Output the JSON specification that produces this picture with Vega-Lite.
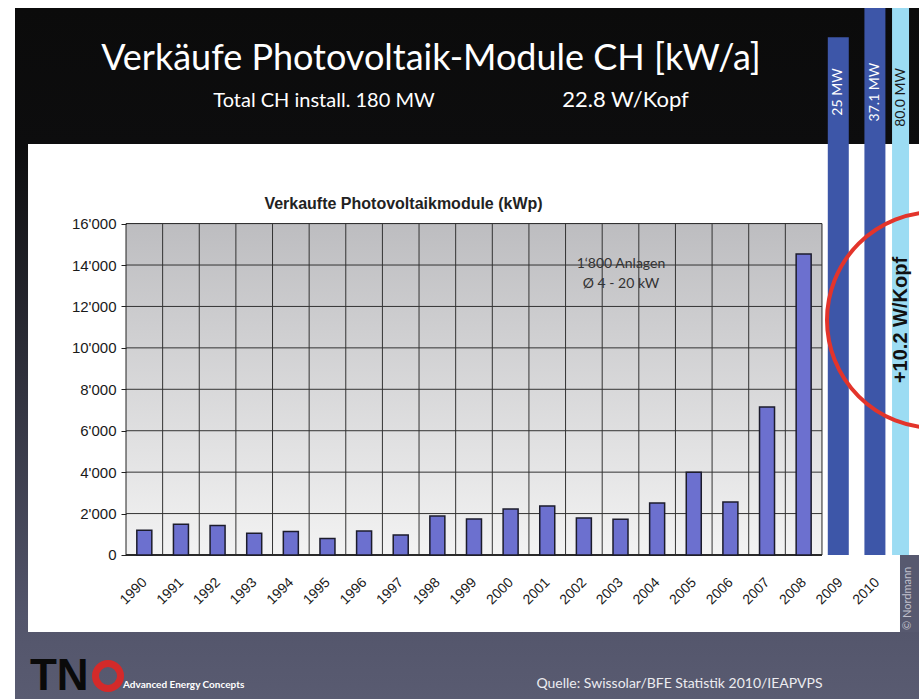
{
  "$schema": "https://vega.github.io/schema/vega-lite/v6.json",
  "width": 904,
  "height": 691,
  "autosize": {"type": "none"},
  "padding": {"left": 15, "top": 8, "right": 0, "bottom": 0},
  "background": "white",
  "config": {"view": {"stroke": null}, "text": {"font": "Lato"}, "scale": {"continuousPadding": 0}},
  "datasets": {
    "sales": [
      {"year": 1990, "kwp": 1200}, {"year": 1991, "kwp": 1480}, {"year": 1992, "kwp": 1420},
      {"year": 1993, "kwp": 1050}, {"year": 1994, "kwp": 1130}, {"year": 1995, "kwp": 800},
      {"year": 1996, "kwp": 1160}, {"year": 1997, "kwp": 970}, {"year": 1998, "kwp": 1880},
      {"year": 1999, "kwp": 1740}, {"year": 2000, "kwp": 2220}, {"year": 2001, "kwp": 2370},
      {"year": 2002, "kwp": 1790}, {"year": 2003, "kwp": 1720}, {"year": 2004, "kwp": 2510},
      {"year": 2005, "kwp": 4000}, {"year": 2006, "kwp": 2560}, {"year": 2007, "kwp": 7150},
      {"year": 2008, "kwp": 14530}
    ],
    "forecast": [
      {"year": 2009, "kwp": 25000, "label": "25 MW"},
      {"year": 2010, "kwp": 37100, "label": "37.1 MW"}
    ],
    "extra": [
      {"year": 2011, "kwp": 80000, "label": "80.0 MW"}
    ],
    "vgrid": [
      {"v": 1990.5}, {"v": 1991.5}, {"v": 1992.5}, {"v": 1993.5}, {"v": 1994.5}, {"v": 1995.5},
      {"v": 1996.5}, {"v": 1997.5}, {"v": 1998.5}, {"v": 1999.5}, {"v": 2000.5}, {"v": 2001.5},
      {"v": 2002.5}, {"v": 2003.5}, {"v": 2004.5}, {"v": 2005.5}, {"v": 2006.5}, {"v": 2007.5}
    ],
    "hgrid": [
      {"v": 2000}, {"v": 4000}, {"v": 6000}, {"v": 8000}, {"v": 10000}, {"v": 12000}, {"v": 14000}
    ]
  },
  "layer": [
    {
      "data": {"values": [{}]},
      "mark": {"type": "rect", "fill": {"gradient": "linear", "x1": 0, "y1": 0, "x2": 0, "y2": 1,
        "stops": [{"offset": 0, "color": "#0b0b0b"}, {"offset": 0.2, "color": "#0d0d0e"}, {"offset": 0.88, "color": "#53556b"}, {"offset": 1, "color": "#595b71"}]}},
      "encoding": {}
    },
    {
      "data": {"name": "sales"},
      "mark": {"type": "bar", "width": 15, "fill": "#6c70cf", "stroke": "#1c1c2c", "strokeWidth": 1.5, "opacity": 0},
      "encoding": {
        "x": {
          "field": "year", "type": "quantitative",
          "scale": {"domain": [1986.4697, 2011.1489], "nice": false, "zero": false, "padding": 0},
          "axis": {
            "orient": "bottom", "offset": -144, "title": null,
            "values": [1990, 1991, 1992, 1993, 1994, 1995, 1996, 1997, 1998, 1999, 2000, 2001, 2002, 2003, 2004, 2005, 2006, 2007, 2008, 2009, 2010],
            "format": "d", "ticks": false, "tickSize": 0, "domain": false, "grid": false,
            "labelAngle": -45, "labelAlign": "right", "labelBaseline": "middle", "labelPadding": 25,
            "labelFont": "Liberation Sans", "labelFontSize": 14, "labelColor": "#1a1a1a", "labelOverlap": false, "zindex": 1
          }
        },
        "y": {
          "field": "kwp", "type": "quantitative",
          "scale": {"domain": [-6952.2, 26408.6], "nice": false, "zero": false, "padding": 0},
          "axis": {
            "orient": "left", "offset": -111, "title": null,
            "values": [0, 2000, 4000, 6000, 8000, 10000, 12000, 14000, 16000],
            "labelExpr": "replace(format(datum.value, ','), ',', \"'\")",
            "ticks": true, "tickSize": 5, "tickColor": "#222222", "domain": false, "grid": false,
            "labelFont": "Liberation Sans", "labelFontSize": 15, "labelColor": "#1a1a1a", "labelPadding": 5, "zindex": 1
          }
        },
        "y2": {"datum": 0}
      }
    },
    {
      "data": {"values": [{}]},
      "mark": {"type": "rect", "fill": "#ffffff"},
      "encoding": {
        "x": {"datum": 1986.825, "type": "quantitative"},
        "x2": {"datum": 2011.2},
        "y": {"datum": -3717.5, "type": "quantitative"},
        "y2": {"datum": 19842.7}
      }
    },
    {
      "data": {"values": [{}]},
      "mark": {"type": "rect", "fill": "#57596f"},
      "encoding": {
        "x": {"datum": 2010.63, "type": "quantitative"},
        "x2": {"datum": 2011.2},
        "y": {"datum": -3717.5, "type": "quantitative"},
        "y2": {"datum": 0}
      }
    },
    {
      "data": {"values": [{}]},
      "mark": {"type": "rect", "stroke": "#222222", "strokeWidth": 1,
        "fill": {"gradient": "linear", "x1": 0, "y1": 0, "x2": 0, "y2": 1,
          "stops": [{"offset": 0, "color": "#bdbdc0"}, {"offset": 1, "color": "#f3f3f3"}]}},
      "encoding": {
        "x": {"datum": 1989.5, "type": "quantitative"},
        "x2": {"datum": 2008.5},
        "y": {"datum": 0, "type": "quantitative"},
        "y2": {"datum": 16000}
      }
    },
    {
      "data": {"name": "vgrid"},
      "mark": {"type": "rule", "stroke": "#333333", "strokeWidth": 1},
      "encoding": {
        "x": {"field": "v", "type": "quantitative"},
        "y": {"datum": 0, "type": "quantitative"},
        "y2": {"datum": 16000}
      }
    },
    {
      "data": {"name": "hgrid"},
      "mark": {"type": "rule", "stroke": "#333333", "strokeWidth": 1},
      "encoding": {
        "y": {"field": "v", "type": "quantitative"},
        "x": {"datum": 1989.5, "type": "quantitative"},
        "x2": {"datum": 2008.5}
      }
    },
    {
      "data": {"values": [{}]},
      "mark": {"type": "rule", "stroke": "#2a2a2a", "strokeWidth": 2},
      "encoding": {
        "y": {"datum": 0, "type": "quantitative"},
        "x": {"datum": 1989.5, "type": "quantitative"},
        "x2": {"datum": 2008.5}
      }
    },
    {
      "data": {"name": "sales"},
      "mark": {"type": "bar", "width": 15, "fill": "#6c70cf", "stroke": "#1c1c2c", "strokeWidth": 1.5},
      "encoding": {
        "x": {"field": "year", "type": "quantitative"},
        "y": {"field": "kwp", "type": "quantitative"},
        "y2": {"datum": 0}
      }
    },
    {
      "data": {"name": "forecast"},
      "mark": {"type": "bar", "width": 21, "fill": "#3d56a8", "clip": true, "xOffset": -2},
      "encoding": {
        "x": {"field": "year", "type": "quantitative"},
        "y": {"field": "kwp", "type": "quantitative"},
        "y2": {"datum": 0}
      }
    },
    {
      "data": {"name": "extra"},
      "mark": {"type": "bar", "width": 17, "fill": "#9cdcf3", "clip": true, "xOffset": -13},
      "encoding": {
        "x": {"field": "year", "type": "quantitative"},
        "y": {"field": "kwp", "type": "quantitative"},
        "y2": {"datum": 0}
      }
    },
    {
      "data": {"name": "forecast"},
      "mark": {"type": "text", "angle": 270, "fill": "#ffffff", "fontSize": 14, "align": "center", "baseline": "middle", "xOffset": -2},
      "encoding": {
        "x": {"field": "year", "type": "quantitative"},
        "y": {"datum": 22353, "type": "quantitative"},
        "text": {"field": "label"}
      }
    },
    {
      "data": {"name": "extra"},
      "mark": {"type": "text", "angle": 270, "fill": "#1a1a1a", "fontSize": 14, "align": "center", "baseline": "middle", "xOffset": -12.5},
      "encoding": {
        "x": {"field": "year", "type": "quantitative"},
        "y": {"datum": 22088, "type": "quantitative"},
        "text": {"field": "label"}
      }
    },
    {
      "data": {"values": [{}]},
      "mark": {"type": "text", "text": "+10.2 W/Kopf", "angle": 270, "font": "Liberation Sans", "fontWeight": "bold", "fontSize": 20, "fill": "#111111", "align": "center", "baseline": "middle"},
      "encoding": {
        "x": {"datum": 2010.657, "type": "quantitative"},
        "y": {"datum": 11345.6, "type": "quantitative"}
      }
    },
    {
      "data": {"values": [{}]},
      "mark": {"type": "point", "shape": "circle", "size": 46656, "filled": false, "stroke": "#e3342b", "strokeWidth": 4, "opacity": 1},
      "encoding": {
        "x": {"datum": 2011.586, "type": "quantitative"},
        "y": {"datum": 11345.6, "type": "quantitative"}
      }
    },
    {
      "data": {"values": [{}]},
      "mark": {"type": "text", "text": "Verkäufe Photovoltaik-Module CH [kW/a]", "fontSize": 36, "fill": "#ffffff", "align": "center", "baseline": "alphabetic"},
      "encoding": {
        "x": {"datum": 1997.8265, "type": "quantitative"},
        "y": {"datum": 23415, "type": "quantitative"}
      }
    },
    {
      "data": {"values": [{}]},
      "mark": {"type": "text", "text": "Total CH install. 180 MW", "fontSize": 20, "fill": "#ffffff", "align": "center", "baseline": "alphabetic"},
      "encoding": {
        "x": {"datum": 1994.905, "type": "quantitative"},
        "y": {"datum": 21629, "type": "quantitative"}
      }
    },
    {
      "data": {"values": [{}]},
      "mark": {"type": "text", "text": "22.8 W/Kopf", "fontSize": 22, "fill": "#ffffff", "align": "center", "baseline": "alphabetic"},
      "encoding": {
        "x": {"datum": 2003.136, "type": "quantitative"},
        "y": {"datum": 21629, "type": "quantitative"}
      }
    },
    {
      "data": {"values": [{}]},
      "mark": {"type": "text", "text": "Verkaufte Photovoltaikmodule (kWp)", "font": "Liberation Sans", "fontWeight": "bold", "fontSize": 16, "fill": "#222222", "align": "center", "baseline": "alphabetic"},
      "encoding": {
        "x": {"datum": 1997.076, "type": "quantitative"},
        "y": {"datum": 16704.5, "type": "quantitative"}
      }
    },
    {
      "data": {"values": [{}]},
      "mark": {"type": "text", "text": "1‘800 Anlagen", "fontSize": 14, "fill": "#333333", "align": "center", "baseline": "alphabetic"},
      "encoding": {
        "x": {"datum": 2003.0135, "type": "quantitative"},
        "y": {"datum": 13856, "type": "quantitative"}
      }
    },
    {
      "data": {"values": [{}]},
      "mark": {"type": "text", "text": "Ø 4 - 20 kW", "fontSize": 14, "fill": "#333333", "align": "center", "baseline": "alphabetic"},
      "encoding": {
        "x": {"datum": 2003.0135, "type": "quantitative"},
        "y": {"datum": 12890, "type": "quantitative"}
      }
    },
    {
      "data": {"values": [{}]},
      "mark": {"type": "text", "text": "Quelle: Swissolar/BFE Statistik 2010/IEAPVPS", "fontSize": 14, "fill": "#ececf0", "align": "center", "baseline": "alphabetic"},
      "encoding": {
        "x": {"datum": 2004.611, "type": "quantitative"},
        "y": {"datum": -6421, "type": "quantitative"}
      }
    },
    {
      "data": {"values": [{}]},
      "mark": {"type": "text", "text": "Advanced Energy Concepts", "fontSize": 10, "fontWeight": "bold", "fill": "#ffffff", "align": "left", "baseline": "alphabetic"},
      "encoding": {
        "x": {"datum": 1989.418, "type": "quantitative"},
        "y": {"datum": -6421, "type": "quantitative"}
      }
    },
    {
      "data": {"values": [{}]},
      "mark": {"type": "text", "text": "TN", "font": "Liberation Sans", "fontSize": 44, "fontWeight": "bold", "fill": "#0a0a0a", "align": "left", "baseline": "alphabetic"},
      "encoding": {
        "x": {"datum": 1986.879, "type": "quantitative"},
        "y": {"datum": -6517.7, "type": "quantitative"}
      }
    },
    {
      "data": {"values": [{}]},
      "mark": {"type": "point", "shape": "circle", "size": 625, "filled": false, "stroke": "#d42a2a", "strokeWidth": 7, "opacity": 1},
      "encoding": {
        "x": {"datum": 1989.009, "type": "quantitative"},
        "y": {"datum": -5841.8, "type": "quantitative"}
      }
    },
    {
      "data": {"values": [{}]},
      "mark": {"type": "text", "text": "© Nordmann", "fontSize": 11, "angle": 270, "fill": "#c0c0cc", "align": "left", "baseline": "middle"},
      "encoding": {
        "x": {"datum": 2010.849, "type": "quantitative"},
        "y": {"datum": -3620.9, "type": "quantitative"}
      }
    }
  ]
}
